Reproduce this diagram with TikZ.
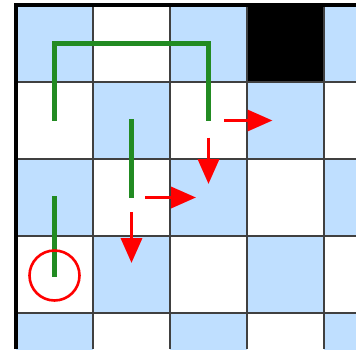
\documentclass[tikz,border=0pt]{standalone}
\usetikzlibrary{arrows.meta}
\definecolor{CellBlue}{RGB}{191,223,255}
\definecolor{TrailGreen}{RGB}{34,139,34}
\begin{document}
\begin{tikzpicture}[x=1pt,y=-1pt,
  gridln/.style={draw=black!75,line width=1.6pt},
  trail/.style={draw=TrailGreen,line width=5pt},
  move/.style={draw=red,line width=3.5pt,-{Triangle[length=25pt,width=21pt]}},
  goal/.style={circle,draw=red,line width=2.6pt,minimum size=50pt,inner sep=0pt}
]
  \useasboundingbox (0,0) rectangle (356,349);
  \clip (0,0) rectangle (356,349);
  % checkerboard
  \foreach \r in {0,...,4}
    \foreach \c in {0,...,4}{
      \pgfmathtruncatemacro\cellpar{mod(\r+\c,2)}
      \ifnum\cellpar=0
        \fill[CellBlue] (16+77*\c,5+77*\r) rectangle ++(77,77);
      \fi
      \coordinate (m-\r-\c) at (54.5+77*\c,43.5+77*\r);
    }
  \fill[black] (247,5) rectangle (324,82);
  \foreach \x in {93,170,247,324}
    \draw[gridln] (\x,5) -- (\x,349);
  \foreach \y in {82,159,236,313}
    \draw[gridln] (16,\y) -- (356,\y);
  \draw[line width=4.5pt] (16,349) -- (16,5) -- (356,5);
  % trails
  \draw[trail] (m-1-0) -- (m-0-0) -- (m-0-2) -- (m-1-2);
  \draw[trail] ([yshift=1.5pt]m-1-1) -- (m-2-1);
  \draw[trail] ([yshift=1.5pt]m-2-0) -- ([yshift=-2.5pt]m-3-0);
  % moves
  \draw[move] ([xshift=15.5pt]m-1-2) -- ([xshift=64pt]m-1-2);
  \draw[move] ([yshift=-17pt]m-1-2) -- ([yshift=-63.5pt]m-1-2);
  \draw[move] ([xshift=13.5pt]m-2-1) -- ([xshift=64.5pt]m-2-1);
  \draw[move] ([yshift=-14.5pt]m-2-1) -- ([yshift=-65.5pt]m-2-1);
  \node[goal] (start) at ([yshift=-1pt]m-3-0) {};
\end{tikzpicture}
\end{document}
